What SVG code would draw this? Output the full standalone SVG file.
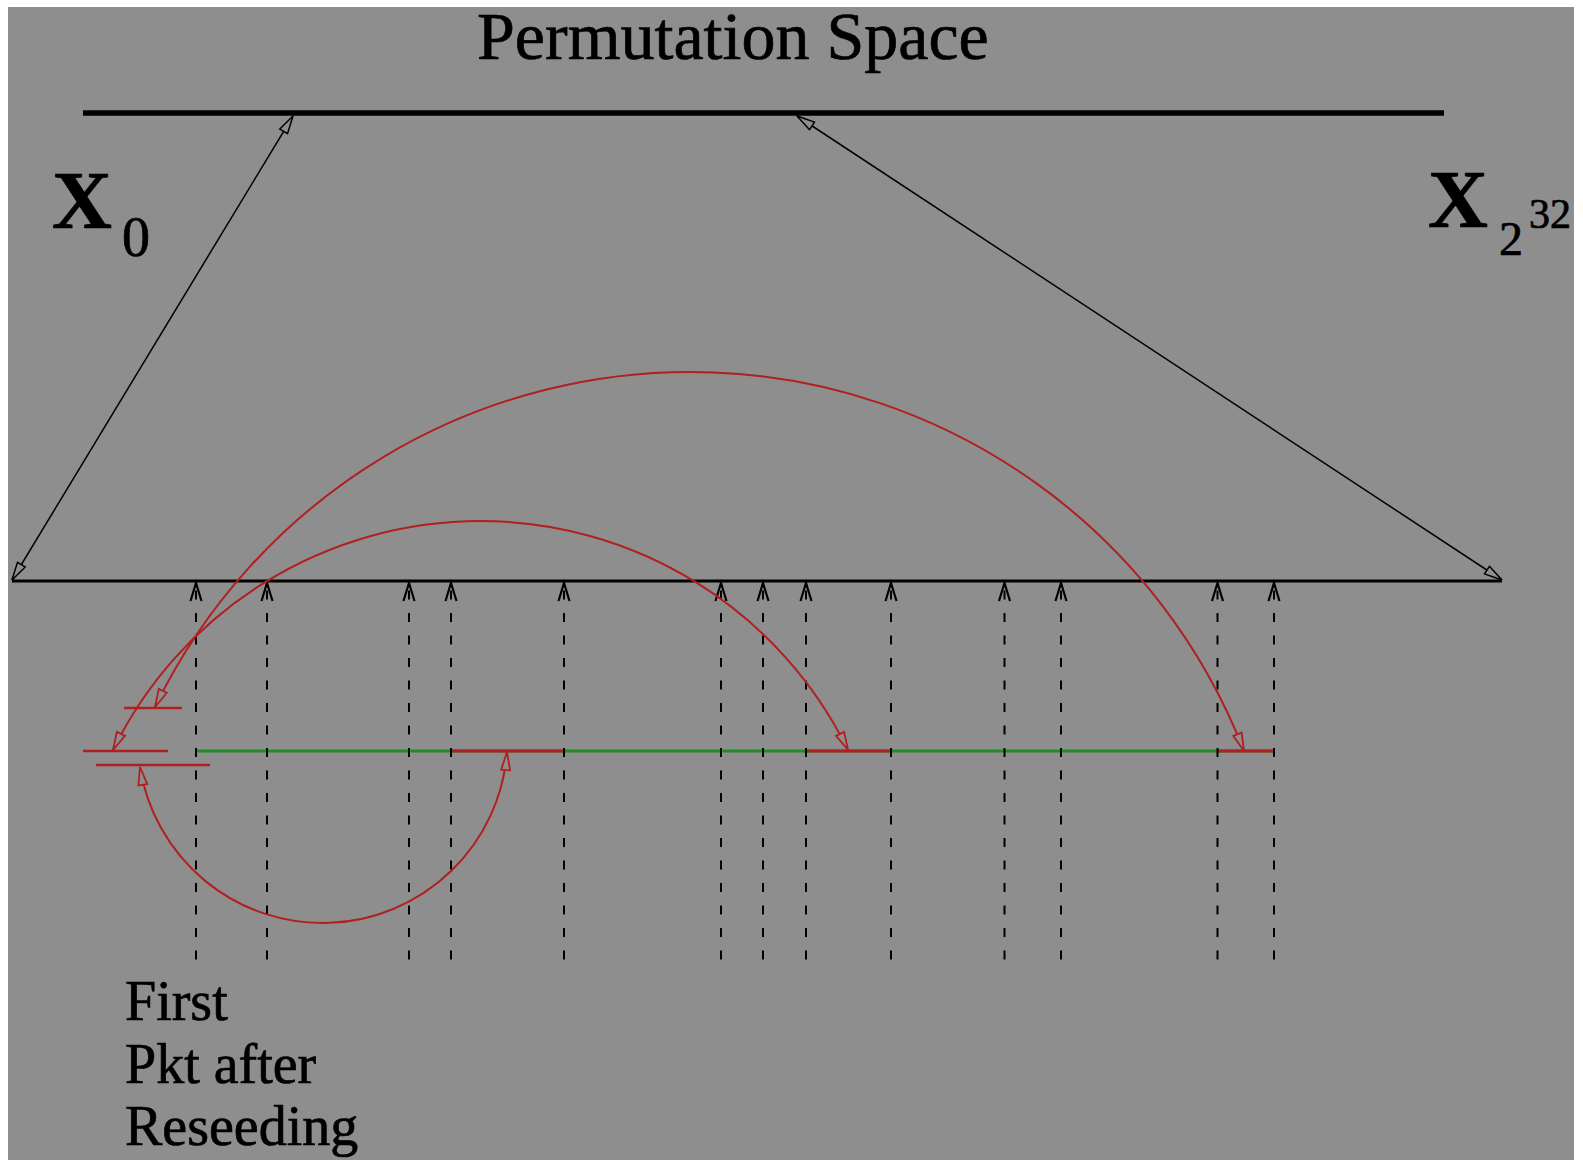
<svg xmlns="http://www.w3.org/2000/svg" width="1583" height="1160" viewBox="0 0 1583 1160">
<style>
.txt{font-family:"Liberation Serif","Times New Roman",serif;fill:#000;stroke:#000;stroke-width:0.7}
.blk{stroke:#000;fill:none}
.red{stroke:#b02020;fill:none}
.dash{stroke:#000;stroke-width:2;fill:none;stroke-dasharray:9 13.5;stroke-dashoffset:15;marker-start:url(#up)}
</style>
<defs>
<clipPath id="clip"><rect x="8" y="7" width="1566" height="1153"/></clipPath>
<marker id="ah" markerUnits="userSpaceOnUse" markerWidth="20" markerHeight="12" refX="0" refY="0" orient="auto-start-reverse" overflow="visible">
<path d="M-18,-4.5 L0,0 L-18,4.5 Z" fill="#8e8e8e" stroke="#000" stroke-width="1.5"/>
</marker>
<marker id="rh" markerUnits="userSpaceOnUse" markerWidth="20" markerHeight="12" refX="0" refY="0" orient="auto-start-reverse" overflow="visible">
<path d="M-18,-4.5 L0,0 L-18,4.5 Z" fill="#8e8e8e" stroke="#b02020" stroke-width="1.8"/>
</marker>
<marker id="up" markerUnits="userSpaceOnUse" markerWidth="20" markerHeight="12" refX="0" refY="0" orient="auto-start-reverse" overflow="visible">
<path d="M-18,-5.5 L0,0 L-18,5.5" fill="none" stroke="#000" stroke-width="2.2"/>
</marker>
</defs>
<rect width="1583" height="1160" fill="#fff"/>
<rect x="8" y="7" width="1566" height="1153" fill="#8e8e8e"/>
<g clip-path="url(#clip)">
<g id="title"><text class="txt" x="477" y="59" font-size="68">Permutation Space</text></g>
<g id="permutation-space"><line class="blk" x1="83" y1="113" x2="1444" y2="113" stroke-width="5.5"/></g>
<g id="label-x0"><text class="txt" x="52" y="228" font-size="83" font-weight="bold">X</text><text class="txt" x="122" y="256" font-size="56">0</text></g>
<g id="label-x232"><text class="txt" x="1428" y="227" font-size="83" font-weight="bold">X</text><text class="txt" x="1499" y="255" font-size="48">2</text><text class="txt" x="1529" y="228" font-size="42">32</text></g>
<g id="sequence-line"><line class="blk" x1="12" y1="581" x2="1502" y2="581" stroke-width="3"/></g>
<g id="packet-line">
<line x1="196" y1="751" x2="1274" y2="751" stroke="#228b22" stroke-width="3"/>
<line x1="451" y1="751" x2="564" y2="751" stroke="#b02020" stroke-width="3"/>
<line x1="806" y1="751" x2="891" y2="751" stroke="#b02020" stroke-width="3"/>
<line x1="1217" y1="751" x2="1274" y2="751" stroke="#b02020" stroke-width="3"/>
</g>
<g id="reseed-stubs">
<line class="red" x1="124" y1="708" x2="182" y2="708" stroke-width="2.5"/>
<line class="red" x1="83" y1="751" x2="168" y2="751" stroke-width="2.5"/>
<line class="red" x1="96" y1="765" x2="210" y2="765" stroke-width="2.5"/>
</g>
<g id="label-first"><text class="txt" x="125" y="1020" font-size="56">First</text><text class="txt" x="125" y="1083" font-size="56">Pkt after</text><text class="txt" x="125" y="1145" font-size="56">Reseeding</text></g>
<g id="connectors">
<line class="blk" x1="293" y1="116" x2="12" y2="580" stroke-width="1.5" marker-start="url(#ah)" marker-end="url(#ah)"/>
<line class="blk" x1="797" y1="116" x2="1502" y2="580" stroke-width="1.5" marker-start="url(#ah)" marker-end="url(#ah)"/>
<path class="dash" d="M196,583 V963"/>
<path class="dash" d="M267,583 V963"/>
<path class="dash" d="M409,583 V963"/>
<path class="dash" d="M451,583 V963"/>
<path class="dash" d="M564,583 V963"/>
<path class="dash" d="M721,583 V963"/>
<path class="dash" d="M763,583 V963"/>
<path class="dash" d="M806,583 V963"/>
<path class="dash" d="M891,583 V963"/>
<path class="dash" d="M1004.5,583 V963"/>
<path class="dash" d="M1061,583 V963"/>
<path class="dash" d="M1217.5,583 V963"/>
<path class="dash" d="M1274,583 V963"/>
<path class="red" stroke-width="2" d="M155,707 A594.5,594.5 0 0 1 1244,751" marker-start="url(#rh)" marker-end="url(#rh)"/>
<path class="red" stroke-width="2" d="M113,750 A409.4,409.4 0 0 1 848,750" marker-start="url(#rh)" marker-end="url(#rh)"/>
<path class="red" stroke-width="2" d="M140,767 A184.9,184.9 0 0 0 507,752" marker-start="url(#rh)" marker-end="url(#rh)"/>
</g>
</g>
</svg>
